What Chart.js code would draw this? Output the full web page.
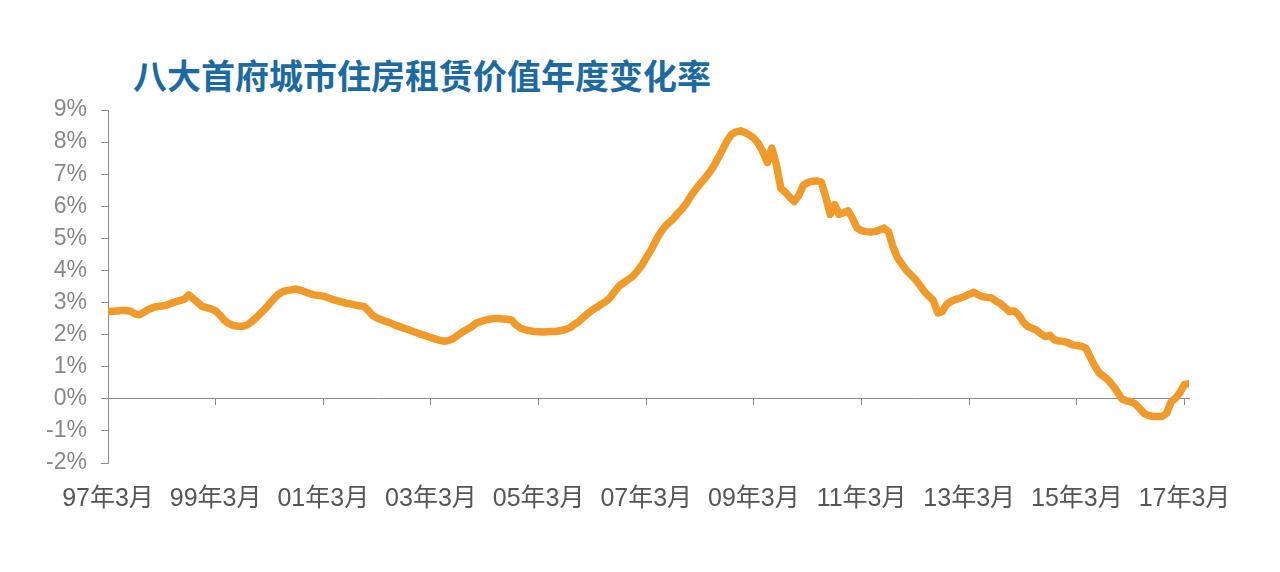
<!DOCTYPE html>
<html>
<head>
<meta charset="utf-8">
<script src="https://cdn.jsdelivr.net/npm/chart.js@4/dist/chart.umd.min.js"></script>
<style>
  body { margin: 0; background: #fff; }
  #wrap { position: relative; width: 1280px; height: 572px; }
  #title {
    position: absolute; left: 133px; top: 58px; margin: 0;
    font: bold 34px/34px "Noto Sans CJK SC", sans-serif;
    color: #1d6aa1; white-space: nowrap;
  }
  canvas { position: absolute; left: 0; top: 0; }
</style>
</head>
<body>
<div id="wrap">
  <h1 id="title">八大首府城市住房租赁价值年度变化率</h1>
  <canvas id="chart" width="1280" height="572"></canvas>
</div>
<script>
// monthly series, 97年3月 .. 17年4月, annual change in %
var rentChange = [
  2.72, 2.73, 2.74, 2.75, 2.75, 2.73, 2.65, 2.62, 2.70, 2.78, 2.84, 2.88,
  2.89, 2.92, 2.97, 3.02, 3.06, 3.10, 3.24, 3.12, 3.00, 2.88, 2.84, 2.80,
  2.74, 2.60, 2.44, 2.34, 2.28, 2.26, 2.26, 2.30, 2.40, 2.52, 2.66, 2.80,
  2.96, 3.12, 3.26, 3.34, 3.38, 3.40, 3.42, 3.38, 3.33, 3.28, 3.24, 3.22,
  3.20, 3.15, 3.10, 3.06, 3.02, 2.98, 2.96, 2.93, 2.90, 2.88, 2.76, 2.60,
  2.52, 2.46, 2.41, 2.36, 2.30, 2.25, 2.20, 2.15, 2.10, 2.05, 2.00, 1.96,
  1.91, 1.86, 1.82, 1.79, 1.82, 1.88, 1.98, 2.08, 2.16, 2.24, 2.35, 2.40,
  2.45, 2.48, 2.50, 2.50, 2.49, 2.48, 2.45, 2.30, 2.20, 2.15, 2.12, 2.10,
  2.09, 2.08, 2.09, 2.10, 2.10, 2.13, 2.16, 2.22, 2.32, 2.41, 2.54, 2.66,
  2.77, 2.85, 2.95, 3.03, 3.16, 3.35, 3.52, 3.62, 3.72, 3.82, 3.98, 4.16,
  4.40, 4.62, 4.90, 5.14, 5.34, 5.48, 5.60, 5.78, 5.92, 6.10, 6.34, 6.52,
  6.70, 6.86, 7.04, 7.24, 7.50, 7.76, 8.04, 8.24, 8.32, 8.35, 8.30, 8.22,
  8.12, 7.95, 7.70, 7.36, 7.81, 7.30, 6.56, 6.44, 6.28, 6.15, 6.34, 6.65,
  6.74, 6.78, 6.79, 6.76, 6.30, 5.75, 6.05, 5.75, 5.80, 5.86, 5.62, 5.32,
  5.24, 5.21, 5.20, 5.21, 5.26, 5.32, 5.21, 4.74, 4.40, 4.20, 4.00, 3.86,
  3.72, 3.54, 3.34, 3.20, 3.06, 2.68, 2.72, 2.95, 3.04, 3.10, 3.14, 3.19,
  3.26, 3.32, 3.24, 3.18, 3.16, 3.14, 3.04, 2.96, 2.84, 2.72, 2.74, 2.62,
  2.40, 2.26, 2.20, 2.14, 2.02, 1.94, 1.98, 1.84, 1.80, 1.79, 1.75, 1.68,
  1.66, 1.64, 1.58, 1.30, 1.02, 0.80, 0.70, 0.58, 0.42, 0.22, 0.00, -0.06,
  -0.09, -0.16, -0.30, -0.46, -0.52, -0.55, -0.55, -0.55, -0.45, -0.10, 0.02, 0.20,
  0.45, 0.47
];
// one label every 24 months
var tickLabels = ['97年3月', '99年3月', '01年3月', '03年3月', '05年3月', '07年3月',
  '09年3月', '11年3月', '13年3月', '15年3月', '17年3月'];
var yMin = -2, yMax = 9;
var monthsPerTick = 24;

var points = rentChange.map(function (v, i) { return { x: i, y: v }; });
var lastMonth = rentChange.length - 1;

function setTicks(axis) {
  axis.ticks = tickLabels.map(function (t, k) { return { value: k * monthsPerTick }; });
}

var axisGrey = '#8c8c8c';

new Chart(document.getElementById('chart'), {
  type: 'line',
  data: {
    datasets: [{
      data: points,
      borderColor: '#f19a2c',
      borderWidth: 7.5,
      borderCapStyle: 'round',
      borderJoinStyle: 'round',
      pointRadius: 0,
      tension: 0,
      fill: false
    }]
  },
  options: {
    responsive: false,
    animation: false,
    devicePixelRatio: 1,
    layout: { padding: { left: 40, right: 91, top: 110, bottom: 29 } },
    plugins: { legend: { display: false }, tooltip: { enabled: false } },
    scales: {
      x: {
        type: 'linear',
        position: 'bottom',
        min: 0,
        max: lastMonth,
        afterBuildTicks: setTicks,
        afterFit: function (s) { s.height = 80; },
        grid: { display: false, drawTicks: false },
        border: { display: false },
        ticks: {
          autoSkip: false,
          maxRotation: 0,
          padding: 21,
          color: '#555',
          font: { size: 25, family: '"Liberation Sans", "Noto Sans CJK SC", sans-serif' },
          callback: function (v) { return tickLabels[Math.round(v / monthsPerTick)]; }
        }
      },
      xZero: {
        type: 'linear',
        axis: 'x',
        position: { y: 0 },
        min: 0,
        max: lastMonth,
        afterBuildTicks: setTicks,
        grid: { drawOnChartArea: false, drawTicks: true, tickLength: 6, color: axisGrey, lineWidth: 1 },
        border: { color: axisGrey, width: 1 },
        ticks: { display: false }
      },
      y: {
        min: yMin,
        max: yMax,
        afterFit: function (s) { s.width = 68; },
        grid: { drawOnChartArea: false, tickLength: 7, color: axisGrey },
        border: { color: axisGrey, width: 1 },
        ticks: {
          stepSize: 1,
          padding: 14,
          color: '#888',
          font: { size: 23, family: '"Liberation Sans", sans-serif' },
          callback: function (v) { return v + '%'; }
        }
      }
    }
  }
});
</script>
</body>
</html>
